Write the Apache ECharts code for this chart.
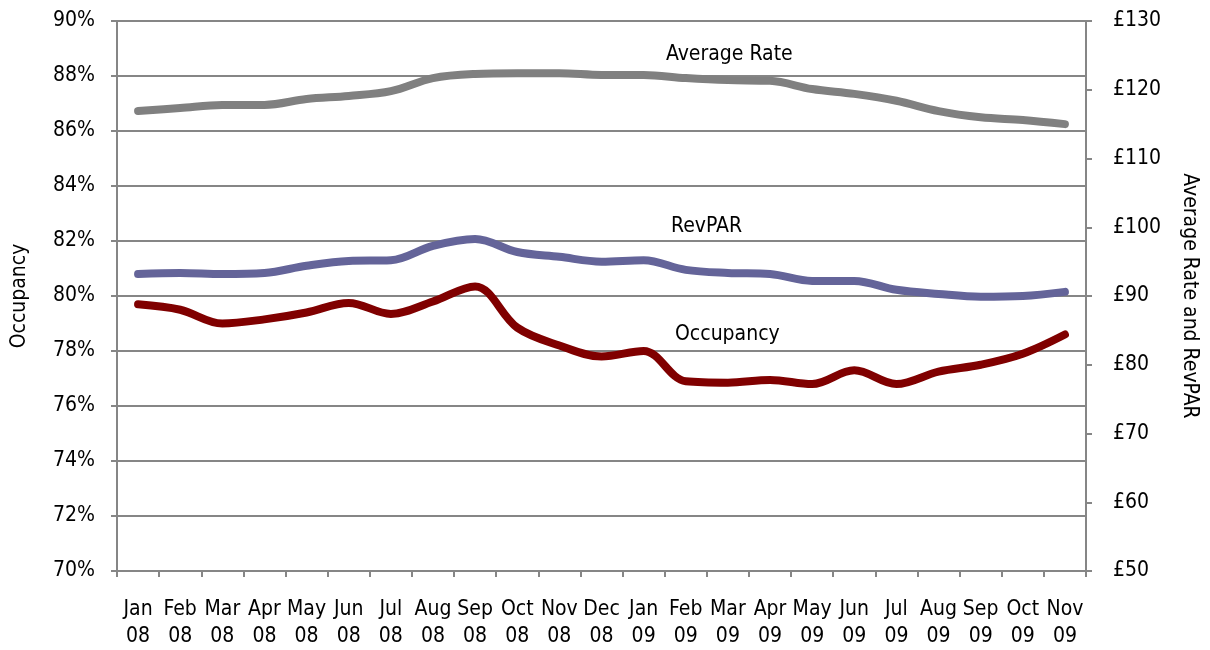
<!DOCTYPE html>
<html>
<head>
<meta charset="utf-8">
<script src="https://cdn.jsdelivr.net/npm/echarts@6/dist/echarts.min.js"></script>
<style>html,body{margin:0;padding:0;background:#fff}#c{width:1210px;height:650px}</style>
</head>
<body>
<div id="c"></div>
<script>
const categories = ['Jan\n08','Feb\n08','Mar\n08','Apr\n08','May\n08','Jun\n08','Jul\n08','Aug\n08','Sep\n08','Oct\n08','Nov\n08','Dec\n08',
  'Jan\n09','Feb\n09','Mar\n09','Apr\n09','May\n09','Jun\n09','Jul\n09','Aug\n09','Sep\n09','Oct\n09','Nov\n09'];
const occupancy = [79.7,79.5,79.0,79.15,79.4,79.75,79.35,79.8,80.35,78.85,78.2,77.8,78.0,76.9,76.85,76.95,76.8,77.3,76.8,77.25,77.5,77.9,78.6];
const averageRate = [116.9,117.35,117.8,117.8,118.65,119.1,119.8,121.7,122.3,122.4,122.4,122.15,122.15,121.7,121.4,121.3,120.1,119.4,118.4,116.9,116.0,115.6,115.0];
const revpar = [93.2,93.35,93.2,93.35,94.4,95.1,95.2,97.3,98.3,96.4,95.7,95.0,95.2,93.8,93.35,93.2,92.2,92.2,90.9,90.3,89.9,90.0,90.6];
const seriesLabels = ['Average Rate','RevPAR','Occupancy'];

const FONT = '"Liberation Sans Narrow","DejaVu Sans Condensed","Liberation Sans",sans-serif';
const FS = 21;
const AX = '#868686';
const chart = echarts.init(document.getElementById('c'));
chart.setOption({
  animation: false,
  textStyle: {fontFamily: FONT},
  grid: {left: 117, right: 124, top: 21, bottom: 79, outerBoundsMode: 'none', containLabel: false},
  xAxis: {
    type: 'category', data: categories, boundaryGap: true,
    axisLine: {lineStyle: {color: AX, width: 2}},
    axisTick: {show: true, length: 6, lineStyle: {color: AX, width: 2}},
    axisLabel: {color: '#000', fontSize: FS, fontFamily: FONT, lineHeight: 27, margin: 25, interval: 0}
  },
  yAxis: [{
    type: 'value', min: 70, max: 90, interval: 2, position: 'left',
    name: 'Occupancy', nameLocation: 'middle', nameGap: 87,
    nameTextStyle: {color: '#000', fontSize: FS, fontFamily: FONT},
    axisLine: {show: true, lineStyle: {color: AX, width: 2}},
    axisTick: {show: true, length: 6, lineStyle: {color: AX, width: 2}},
    splitLine: {lineStyle: {color: AX, width: 2}},
    axisLabel: {color: '#000', fontSize: FS, fontFamily: FONT, margin: 22, formatter: v => v + '%'}
  }, {
    type: 'value', min: 50, max: 130, interval: 10, position: 'right',
    name: 'Average Rate and RevPAR', nameLocation: 'middle', nameGap: 93, nameRotate: -90,
    nameTextStyle: {color: '#000', fontSize: FS, fontFamily: FONT},
    axisLine: {show: true, lineStyle: {color: AX, width: 2}},
    axisTick: {show: true, length: 6, lineStyle: {color: AX, width: 2}},
    splitLine: {show: false},
    axisLabel: {color: '#000', fontSize: FS, fontFamily: FONT, margin: 27, formatter: v => '£' + v}
  }],
  series: [{
    name: seriesLabels[0], type: 'line', yAxisIndex: 1, data: averageRate, smooth: 0.35,
    symbol: 'none', lineStyle: {color: '#808080', width: 8, cap: 'round'}
  }, {
    name: seriesLabels[1], type: 'line', yAxisIndex: 1, data: revpar, smooth: 0.35,
    symbol: 'none', lineStyle: {color: '#646499', width: 8, cap: 'round'}
  }, {
    name: seriesLabels[2], type: 'line', yAxisIndex: 0, data: occupancy, smooth: 0.35,
    symbol: 'none', lineStyle: {color: '#800000', width: 8, cap: 'round'}
  }],
  graphic: [
    {type: 'text', style: {x: 666, y: 55, verticalAlign: 'middle', text: seriesLabels[0], fontSize: FS, fontFamily: FONT, fill: '#000'}},
    {type: 'text', style: {x: 671, y: 227, verticalAlign: 'middle', text: seriesLabels[1], fontSize: FS, fontFamily: FONT, fill: '#000'}},
    {type: 'text', style: {x: 675, y: 335, verticalAlign: 'middle', text: seriesLabels[2], fontSize: FS, fontFamily: FONT, fill: '#000'}}
  ]
});
</script>
</body>
</html>
